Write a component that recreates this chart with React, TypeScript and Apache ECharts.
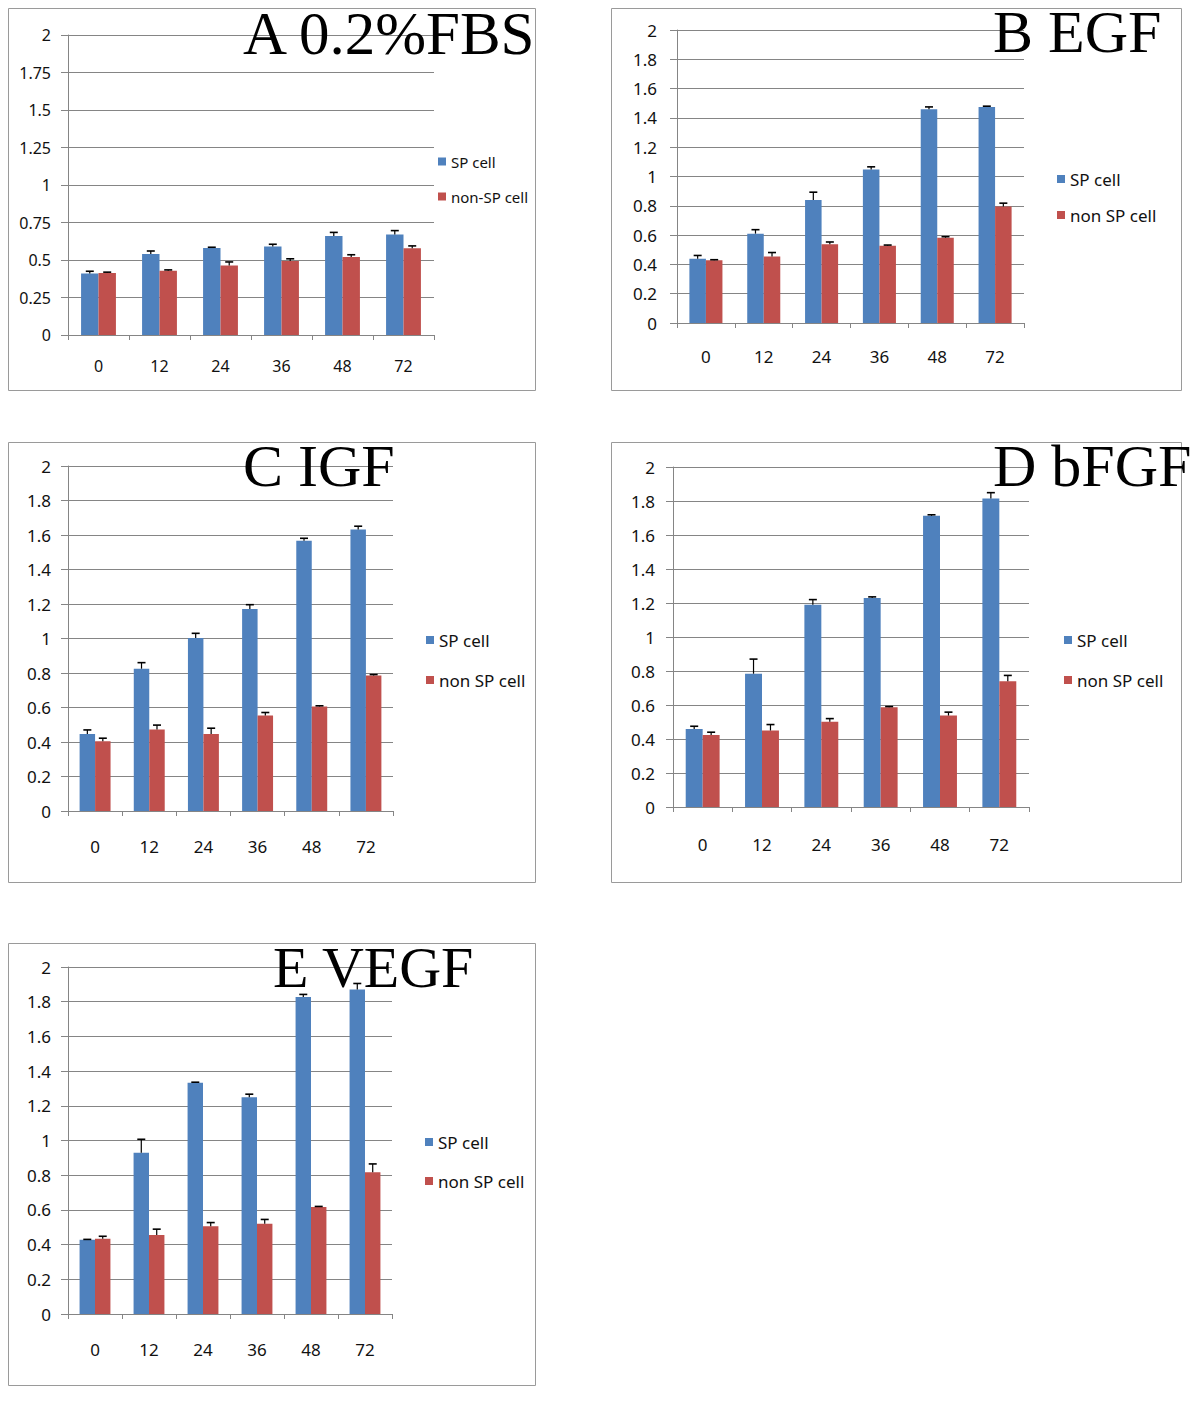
import React, { useEffect, useRef } from "react";
import * as echarts from "echarts";

const hours = ["0", "12", "24", "36", "48", "72"];

const aSp = [0.41, 0.54, 0.58, 0.59, 0.66, 0.67];
const aSpErr = [0.015, 0.02, 0.005, 0.015, 0.024, 0.026];
const aNon = [0.414, 0.428, 0.463, 0.493, 0.52, 0.579];
const aNonErr = [0.005, 0.006, 0.024, 0.015, 0.015, 0.015];

const bSp = [0.438, 0.61, 0.84, 1.048, 1.459, 1.475];
const bSpErr = [0.023, 0.027, 0.053, 0.018, 0.016, 0.005];
const bNon = [0.429, 0.454, 0.537, 0.527, 0.582, 0.795];
const bNonErr = [0.003, 0.027, 0.016, 0.005, 0.007, 0.023];

const cSp = [0.447, 0.825, 1.003, 1.171, 1.566, 1.632];
const cSpErr = [0.023, 0.035, 0.027, 0.025, 0.015, 0.019];
const cNon = [0.405, 0.473, 0.447, 0.554, 0.606, 0.785];
const cNonErr = [0.017, 0.025, 0.033, 0.017, 0.004, 0.006];

const dSp = [0.459, 0.784, 1.189, 1.23, 1.713, 1.814];
const dSpErr = [0.016, 0.086, 0.031, 0.006, 0.006, 0.035];
const dNon = [0.424, 0.45, 0.502, 0.587, 0.538, 0.739];
const dNonErr = [0.016, 0.035, 0.018, 0.004, 0.02, 0.035];

const eSp = [0.428, 0.93, 1.333, 1.25, 1.827, 1.87];
const eSpErr = [0.002, 0.077, 0.003, 0.017, 0.015, 0.035];
const eNon = [0.433, 0.456, 0.506, 0.52, 0.616, 0.817];
const eNonErr = [0.015, 0.033, 0.021, 0.025, 0.004, 0.048];

const BLUE = "#4F81BD";
const RED = "#C0504D";
const GRAY = "#858585";
const FONT = "Noto Sans";

type Panel = {
  title: string;
  titleX: number;
  titleY: number;
  titleSize: number;
  box: [number, number, number, number];
  grid: [number, number, number, number];
  interval: number;
  fontSize: number;
  legendFont: number;
  xMargin: number;
  yMargin: number;
  legendLeft: number;
  legendTop: number;
  legendGap: number;
  nonName: string;
  sp: number[];
  spErr: number[];
  non: number[];
  nonErr: number[];
};

const panels: Panel[] = [
  { title: "A 0.2%FBS", titleX: 243, titleY: 33, titleSize: 61, box: [8, 8, 527, 382], grid: [68, 35, 366, 300], interval: 0.25, fontSize: 16, legendFont: 15, xMargin: 23, yMargin: 17, legendLeft: 433, legendTop: 148, legendGap: 18, nonName: "non-SP cell", sp: aSp, spErr: aSpErr, non: aNon, nonErr: aNonErr },
  { title: "B EGF", titleX: 993, titleY: 32, titleSize: 60, box: [611, 8, 570, 382], grid: [677, 30, 347, 293], interval: 0.2, fontSize: 17, legendFont: 17, xMargin: 25, yMargin: 20, legendLeft: 1052, legendTop: 165, legendGap: 18, nonName: "non SP cell", sp: bSp, spErr: bSpErr, non: bNon, nonErr: bNonErr },
  { title: "C IGF", titleX: 243, titleY: 466, titleSize: 60, box: [8, 442, 527, 440], grid: [68, 466, 325, 345], interval: 0.2, fontSize: 17, legendFont: 17, xMargin: 27, yMargin: 17, legendLeft: 421, legendTop: 626, legendGap: 22, nonName: "non SP cell", sp: cSp, spErr: cSpErr, non: cNon, nonErr: cNonErr },
  { title: "D bFGF", titleX: 993, titleY: 466, titleSize: 60, box: [611, 442, 570, 440], grid: [673, 467, 356, 340], interval: 0.2, fontSize: 17, legendFont: 17, xMargin: 29, yMargin: 18, legendLeft: 1059, legendTop: 626, legendGap: 22, nonName: "non SP cell", sp: dSp, spErr: dSpErr, non: dNon, nonErr: dNonErr },
  { title: "E VEGF", titleX: 273, titleY: 967, titleSize: 58, box: [8, 943, 527, 442], grid: [68, 967, 324, 347], interval: 0.2, fontSize: 17, legendFont: 17, xMargin: 27, yMargin: 17, legendLeft: 420, legendTop: 1128, legendGap: 21, nonName: "non SP cell", sp: eSp, spErr: eSpErr, non: eNon, nonErr: eNonErr },
];

const BAR_FRAC = (1 - 0.4286) / 2;

function errRender(sign: number) {
  return (params: any, api: any) => {
    const i = api.value(0);
    const v = api.value(1);
    const e = api.value(2);
    const base = api.coord([i, v]);
    const top = api.coord([i, v + e]);
    const band = api.size([1, 0])[0];
    const x = base[0] + (sign * band * BAR_FRAC) / 2;
    return {
      type: "group",
      children: [
        { type: "line", shape: { x1: x, y1: base[1], x2: x, y2: top[1] }, style: { stroke: "#000", lineWidth: 1.2 } },
        { type: "line", shape: { x1: x - 4, y1: top[1], x2: x + 4, y2: top[1] }, style: { stroke: "#000", lineWidth: 1.6 } },
      ],
    };
  };
}

function buildOption() {
  const grid: any[] = [];
  const xAxis: any[] = [];
  const yAxis: any[] = [];
  const series: any[] = [];
  const legend: any[] = [];
  const graphic: any[] = [];

  panels.forEach((p, k) => {
    grid.push({ left: p.grid[0], top: p.grid[1], width: p.grid[2], height: p.grid[3], containLabel: false });
    xAxis.push({
      type: "category",
      gridIndex: k,
      data: hours,
      axisLine: { show: true, lineStyle: { color: GRAY, width: 1 } },
      axisTick: { show: true, length: 5, lineStyle: { color: GRAY } },
      axisLabel: { color: "#111", fontFamily: FONT, fontSize: p.fontSize, margin: p.xMargin },
    });
    yAxis.push({
      type: "value",
      gridIndex: k,
      min: 0,
      max: 2,
      interval: p.interval,
      axisLine: { show: true, lineStyle: { color: GRAY, width: 1 } },
      axisTick: { show: true, length: 7, lineStyle: { color: GRAY } },
      splitLine: { show: true, lineStyle: { color: GRAY, width: 1 } },
      axisLabel: { color: "#111", fontFamily: FONT, fontSize: p.fontSize, margin: p.yMargin },
    });
    series.push({
      type: "bar",
      name: "SP cell",
      xAxisIndex: k,
      yAxisIndex: k,
      data: p.sp,
      barGap: "0%",
      barCategoryGap: "42.86%",
      itemStyle: { color: BLUE },
    });
    series.push({
      type: "bar",
      name: p.nonName,
      xAxisIndex: k,
      yAxisIndex: k,
      data: p.non,
      barGap: "0%",
      barCategoryGap: "42.86%",
      itemStyle: { color: RED },
    });
    series.push({
      type: "custom",
      xAxisIndex: k,
      yAxisIndex: k,
      z: 5,
      clip: false,
      renderItem: errRender(-1),
      data: p.sp.map((v, i) => [i, v, p.spErr[i]]),
      encode: { x: 0, y: 1 },
    });
    series.push({
      type: "custom",
      xAxisIndex: k,
      yAxisIndex: k,
      z: 5,
      clip: false,
      renderItem: errRender(1),
      data: p.non.map((v, i) => [i, v, p.nonErr[i]]),
      encode: { x: 0, y: 1 },
    });
    legend.push({
      data: ["SP cell", p.nonName],
      orient: "vertical",
      left: p.legendLeft,
      top: p.legendTop,
      itemGap: p.legendGap,
      itemWidth: 8,
      itemHeight: 8,
      icon: "rect",
      selectedMode: false,
      textStyle: { color: "#111", fontFamily: FONT, fontSize: p.legendFont, lineHeight: p.fontSize + 1 },
    });
    graphic.push({
      type: "rect",
      z: -10,
      shape: { x: p.box[0] + 0.5, y: p.box[1] + 0.5, width: p.box[2], height: p.box[3] },
      style: { fill: "none", stroke: "#9a9a9a", lineWidth: 1 },
    });
    graphic.push({
      type: "text",
      z: 100,
      x: p.titleX,
      y: p.titleY,
      style: {
        text: p.title,
        font: `${p.titleSize}px "Liberation Serif"`,
        fill: "#000",
        align: "left",
        verticalAlign: "middle",
      },
    });
  });

  return {
    animation: false,
    backgroundColor: "#fff",
    grid,
    xAxis,
    yAxis,
    series,
    legend,
    graphic,
  };
}

export default function App() {
  const ref = useRef<HTMLDivElement>(null);
  useEffect(() => {
    if (!ref.current) return;
    const chart = echarts.init(ref.current, undefined, { renderer: "svg" });
    chart.setOption(buildOption() as any);
    return () => chart.dispose();
  }, []);
  return (
    <div
      ref={ref}
      style={{ position: "absolute", left: 0, top: 0, width: 1200, height: 1408, background: "#fff" }}
    />
  );
}
